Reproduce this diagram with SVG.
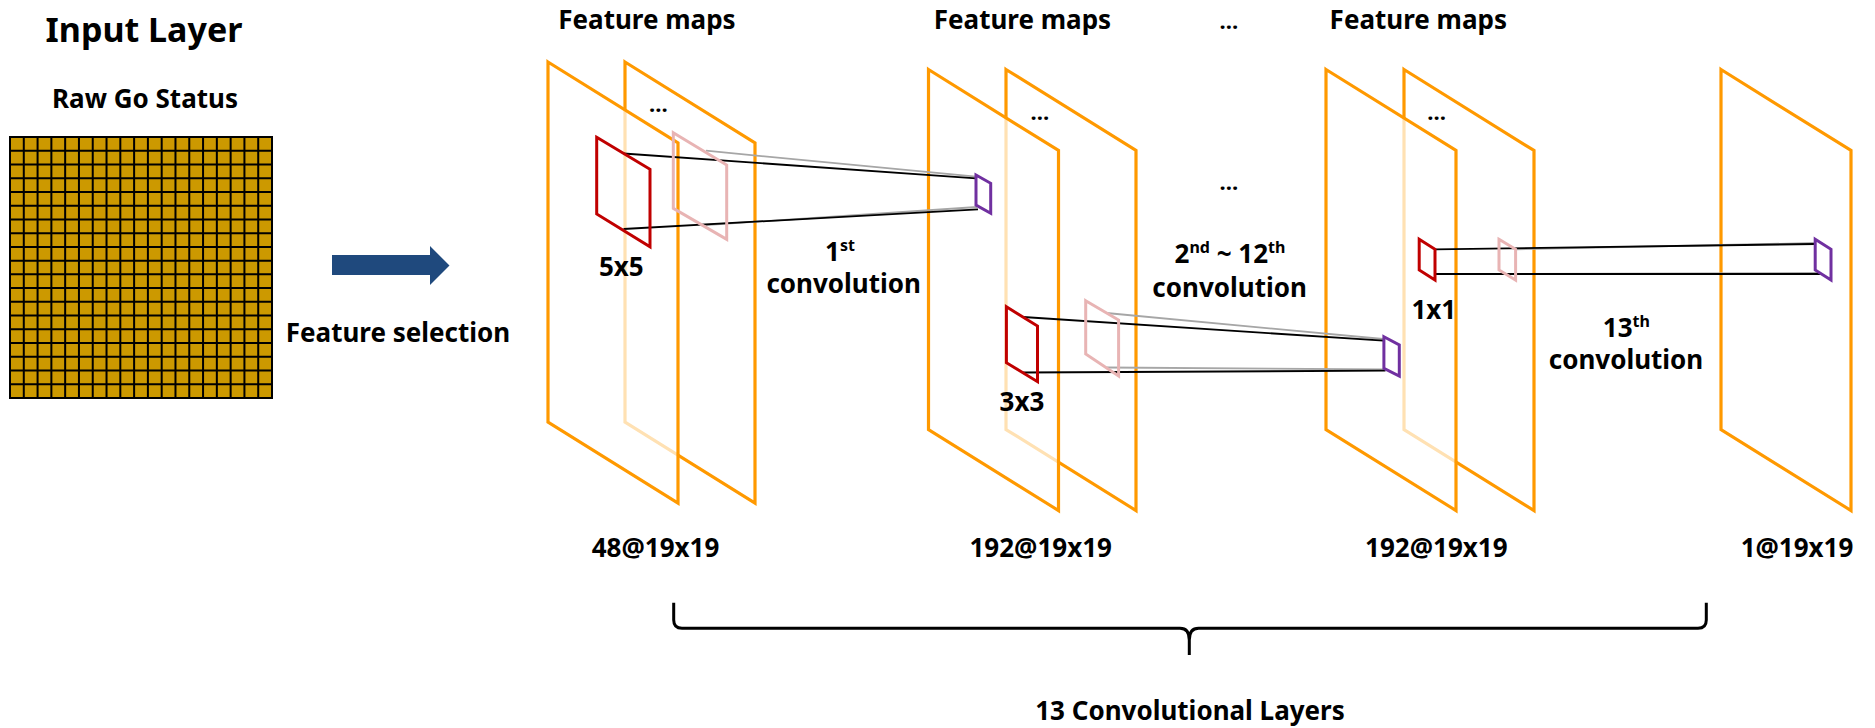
<svg xmlns="http://www.w3.org/2000/svg" width="1875" height="728" viewBox="0 0 1875 728">
  <style>
    text { font-family: "Noto Sans", "Liberation Sans", Arial, sans-serif; font-weight: bold; fill: #000; }
    .lbl { font-size: 26px; }
    .sup { font-size: 16px; }
    .dots { font-size: 22px; }
    .plane { fill: #FFFFFF; fill-opacity: 0.7; stroke: #FF9900; stroke-width: 3.2; stroke-linejoin: miter; }
    .kred { fill: none; stroke: #C00000; stroke-width: 3; }
    .kpink { fill: none; stroke: #E8B4B4; stroke-width: 3; }
    .kpur { fill: none; stroke: #7030A0; stroke-width: 3; }
    .ln { stroke: #000; stroke-width: 1.8; fill: none; }
    .lng { stroke: #A6A6A6; stroke-width: 1.8; fill: none; }
  </style>
  <defs>
    <path id="plane" d="M0,0 L130,81 L130,441 L0,360 Z"/>
  </defs>
  <rect width="1875" height="728" fill="#FFFFFF"/>

  <g id="input-layer">
    <text x="144" y="42" style="font-size:34px" text-anchor="middle">Input Layer</text>
    <text x="145" y="108" class="lbl" text-anchor="middle">Raw Go Status</text>
    <rect x="10" y="137" width="262" height="261" fill="#CC9900" stroke="#000" stroke-width="2"/>
    <path stroke="#000" stroke-width="2" fill="none" d="
      M23.79,137V398 M37.58,137V398 M51.37,137V398 M65.16,137V398 M78.95,137V398 M92.74,137V398 M106.53,137V398 M120.32,137V398 M134.11,137V398 M147.9,137V398 M161.69,137V398 M175.48,137V398 M189.27,137V398 M203.06,137V398 M216.85,137V398 M230.64,137V398 M244.43,137V398 M258.22,137V398
      M10,150.74H272 M10,164.47H272 M10,178.21H272 M10,191.95H272 M10,205.68H272 M10,219.42H272 M10,233.16H272 M10,246.89H272 M10,260.63H272 M10,274.37H272 M10,288.11H272 M10,301.84H272 M10,315.58H272 M10,329.32H272 M10,343.05H272 M10,356.79H272 M10,370.53H272 M10,384.26H272"/>
  </g>

  <g id="feature-selection">
    <polygon points="332,255 430,255 430,246 449.5,265.5 430,285 430,275 332,275" fill="#1F497D"/>
    <text x="398" y="342" class="lbl" text-anchor="middle">Feature selection</text>
  </g>

  <g id="layer1">
    <text x="647" y="29" class="lbl" text-anchor="middle">Feature maps</text>
    <use href="#plane" x="625" y="62" class="plane"/>
    <text x="658.5" y="112" class="dots" text-anchor="middle">…</text>
    <use href="#plane" x="548" y="62" class="plane"/>
    <text x="655.5" y="557" class="lbl" text-anchor="middle">48@19x19</text>
  </g>

  <g id="layer2">
    <text x="1022.5" y="29" class="lbl" text-anchor="middle">Feature maps</text>
    <use href="#plane" x="1006" y="69.5" class="plane"/>
    <text x="1040" y="120" class="dots" text-anchor="middle">…</text>
    <use href="#plane" x="928.5" y="69.5" class="plane"/>
    <text x="1040.7" y="557" class="lbl" text-anchor="middle">192@19x19</text>
  </g>

  <g id="layer12">
    <text x="1229" y="29" class="dots" text-anchor="middle">…</text>
    <text x="1418.3" y="29" class="lbl" text-anchor="middle">Feature maps</text>
    <use href="#plane" x="1404" y="69.5" class="plane"/>
    <text x="1436.6" y="120" class="dots" text-anchor="middle">…</text>
    <use href="#plane" x="1326" y="69.5" class="plane"/>
    <text x="1436.3" y="557" class="lbl" text-anchor="middle">192@19x19</text>
  </g>

  <g id="layer13">
    <use href="#plane" x="1721" y="69.5" class="plane"/>
    <text x="1797" y="557" class="lbl" text-anchor="middle">1@19x19</text>
  </g>

  <g id="connectors">
    <line class="lng" x1="706" y1="150.7" x2="976" y2="176.7"/>
    <line class="lng" x1="706" y1="225" x2="977" y2="207"/>
    <line class="ln" x1="623.5" y1="153.5" x2="976" y2="178.3"/>
    <line class="ln" x1="623.5" y1="229" x2="978" y2="209.3"/>

    <line class="lng" x1="1106.4" y1="313" x2="1383" y2="339"/>
    <line class="lng" x1="1106.4" y1="367.5" x2="1385" y2="369.5"/>
    <line class="ln" x1="1023.2" y1="317" x2="1383.5" y2="340.7"/>
    <line class="ln" x1="1023" y1="372.5" x2="1385.5" y2="370.7"/>

    <line class="lng" x1="1515.6" y1="249.3" x2="1815.2" y2="243"/>
    <line class="lng" x1="1515.6" y1="274" x2="1820.7" y2="273"/>
    <line class="ln" x1="1435" y1="249.3" x2="1815.2" y2="244"/>
    <line class="ln" x1="1435" y1="274" x2="1820.7" y2="274"/>
  </g>

  <g id="kernel-5x5">
    <polygon class="kpink" points="673.3,132.7 726.7,165 726.7,239.3 673.3,208.3"/>
    <polygon class="kred" points="596.7,137.3 650,169.3 650,246.7 596.7,214"/>
    <text x="621.3" y="275.7" class="lbl" text-anchor="middle">5x5</text>
    <polygon class="kpur" points="976,175 990.7,183.3 990.7,213.3 976,205"/>
  </g>

  <g id="conv1-label">
    <text x="840" y="260.7" class="lbl" text-anchor="middle">1<tspan class="sup" dy="-10">st</tspan></text>
    <text x="843.7" y="293.3" class="lbl" text-anchor="middle">convolution</text>
  </g>

  <g id="kernel-3x3">
    <polygon class="kpink" points="1085.7,300.7 1118.6,320 1118.6,376 1085.7,354"/>
    <polygon class="kred" points="1006.4,306.7 1037.5,326 1037.5,381.7 1006.4,362.7"/>
    <text x="1022" y="410.7" class="lbl" text-anchor="middle">3x3</text>
    <polygon class="kpur" points="1383.9,336.7 1399.3,345 1399.3,376 1383.9,368.3"/>
  </g>

  <g id="conv2-12-label">
    <text x="1229" y="190" class="dots" text-anchor="middle">…</text>
    <text x="1230" y="263.3" class="lbl" text-anchor="middle">2<tspan class="sup" dy="-10">nd</tspan><tspan dy="10"> ~ 12</tspan><tspan class="sup" dy="-10">th</tspan></text>
    <text x="1229.6" y="296.7" class="lbl" text-anchor="middle">convolution</text>
  </g>

  <g id="kernel-1x1">
    <polygon class="kpink" points="1499,239.3 1515.6,249.3 1515.6,280 1499,270"/>
    <polygon class="kred" points="1419.2,239.3 1435,249.3 1435,280 1419.2,270"/>
    <text x="1433.8" y="319.3" class="lbl" text-anchor="middle">1x1</text>
    <polygon class="kpur" points="1815.2,239.3 1831,249.3 1831,280 1815.2,270"/>
  </g>

  <g id="conv13-label">
    <text x="1626.4" y="336.7" class="lbl" text-anchor="middle">13<tspan class="sup" dy="-10">th</tspan></text>
    <text x="1626" y="369.3" class="lbl" text-anchor="middle">convolution</text>
  </g>

  <g id="bracket">
    <path d="M673.7,602.7 L673.7,620 Q673.7,628.3 682,628.3 L1180,628.3 Q1189.3,628.3 1189.3,640 L1189.3,655 L1189.3,640 Q1189.3,628.3 1198.6,628.3 L1698,628.3 Q1706.3,628.3 1706.3,620 L1706.3,602.7" fill="none" stroke="#000" stroke-width="3"/>
    <text x="1190" y="720" class="lbl" text-anchor="middle">13 Convolutional Layers</text>
  </g>
</svg>
